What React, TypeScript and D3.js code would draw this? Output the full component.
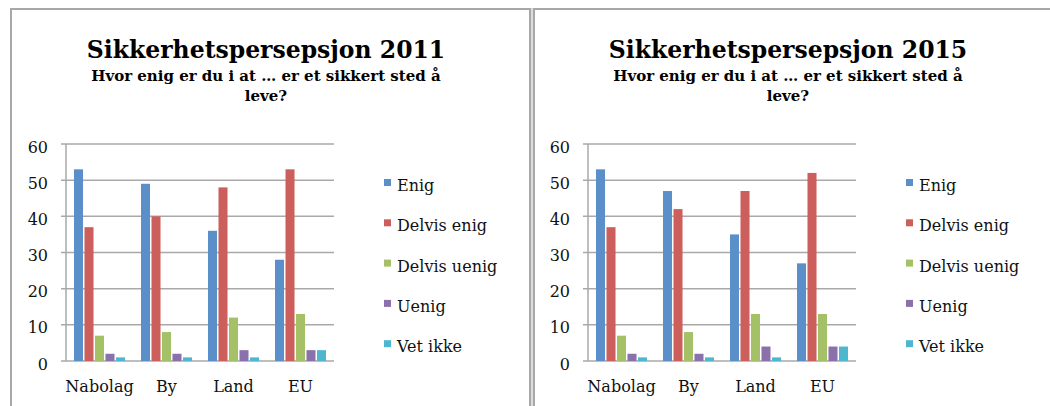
import { useRef, useEffect } from "react";
import * as d3 from "d3";

const categories = ["Nabolag", "By", "Land", "EU"];
const seriesNames = ["Enig", "Delvis enig", "Delvis uenig", "Uenig", "Vet ikke"];
const seriesColors = ["#5b8fca", "#cc5f5b", "#a4c167", "#8b71ab", "#4fb6cf"];
const yTicks = [0, 10, 20, 30, 40, 50, 60];

// values per category, in seriesNames order
const values2011 = [
  [53, 37, 7, 2, 1],
  [49, 40, 8, 2, 1],
  [36, 48, 12, 3, 1],
  [28, 53, 13, 3, 3],
];
const values2015 = [
  [53, 37, 7, 2, 1],
  [47, 42, 8, 2, 1],
  [35, 47, 13, 4, 1],
  [27, 52, 13, 4, 4],
];

const subtitleLine1 = "Hvor enig er du i at … er et sikkert sted å";
const subtitleLine2 = "leve?";

const FONT = "'DejaVu Serif', serif";

type PanelProps = {
  title: string;
  data: number[][];
  offsetX: number;
};

function Panel({ title, data, offsetX }: PanelProps) {
  const ref = useRef<SVGGElement>(null);

  useEffect(() => {
    if (!ref.current) return;
    const g = d3.select(ref.current);
    g.selectAll("*").remove();

    const plot = { left: 66, right: 334, top: 144, bottom: 361 };

    const x = d3
      .scaleBand<string>()
      .domain(categories)
      .range([plot.left, plot.right]);
    const xInner = d3
      .scaleBand<string>()
      .domain(seriesNames)
      .range([8, x.bandwidth() - 8])
      .paddingInner(0.14);
    const y = d3.scaleLinear().domain([0, 60]).range([plot.bottom, plot.top]);

    // Titles
    g.append("text")
      .attr("x", 266)
      .attr("y", 58)
      .attr("text-anchor", "middle")
      .attr("font-family", FONT)
      .attr("font-weight", "bold")
      .attr("font-size", 23.5)
      .text(title);
    g.append("text")
      .attr("x", 266)
      .attr("y", 81)
      .attr("text-anchor", "middle")
      .attr("font-family", FONT)
      .attr("font-weight", "bold")
      .attr("font-size", 15)
      .text(subtitleLine1);
    g.append("text")
      .attr("x", 266)
      .attr("y", 101)
      .attr("text-anchor", "middle")
      .attr("font-family", FONT)
      .attr("font-weight", "bold")
      .attr("font-size", 15)
      .text(subtitleLine2);

    // Gridlines + y ticks
    g.append("g")
      .selectAll("line")
      .data(yTicks)
      .join("line")
      .attr("x1", plot.left - 5)
      .attr("x2", plot.right)
      .attr("y1", (d) => y(d))
      .attr("y2", (d) => y(d))
      .attr("stroke", "#a9a9a9")
      .attr("stroke-width", 1.5);
    g.append("line")
      .attr("x1", plot.left)
      .attr("x2", plot.left)
      .attr("y1", plot.top)
      .attr("y2", plot.bottom)
      .attr("stroke", "#a9a9a9")
      .attr("stroke-width", 1.5);
    g.append("g")
      .selectAll("text")
      .data(yTicks)
      .join("text")
      .attr("x", 48)
      .attr("y", (d) => y(d) + 3)
      .attr("dy", "0.35em")
      .attr("text-anchor", "end")
      .attr("font-family", FONT)
      .attr("font-size", 16)
      .attr("fill", "#111")
      .text((d) => d);

    // Bars
    const groups = g
      .append("g")
      .selectAll("g")
      .data(data)
      .join("g")
      .attr("transform", (_, i) => `translate(${x(categories[i])},0)`);
    groups
      .selectAll("rect")
      .data((d) => d.map((v, j) => ({ v, s: seriesNames[j], c: seriesColors[j] })))
      .join("rect")
      .attr("x", (d) => xInner(d.s) as number)
      .attr("y", (d) => y(d.v))
      .attr("width", xInner.bandwidth())
      .attr("height", (d) => y(0) - y(d.v))
      .attr("fill", (d) => d.c);

    // Category labels
    g.append("g")
      .selectAll("text")
      .data(categories)
      .join("text")
      .attr("x", (d) => (x(d) as number) + x.bandwidth() / 2)
      .attr("y", 392)
      .attr("text-anchor", "middle")
      .attr("font-family", FONT)
      .attr("font-size", 16)
      .attr("fill", "#111")
      .text((d) => d);

    // Legend
    const legend = g
      .append("g")
      .selectAll("g")
      .data(seriesNames)
      .join("g")
      .attr("transform", (_, i) => `translate(384, ${191 + i * 40.3})`);
    legend
      .append("rect")
      .attr("x", 0)
      .attr("y", -12)
      .attr("width", 7)
      .attr("height", 7)
      .attr("fill", (_, i) => seriesColors[i]);
    legend
      .append("text")
      .attr("x", 13)
      .attr("y", 0)
      .attr("font-family", FONT)
      .attr("font-size", 16)
      .attr("fill", "#111")
      .text((d) => d);
  }, [title, data]);

  return <g ref={ref} transform={`translate(${offsetX},0)`} />;
}

export default function App() {
  return (
    <svg
      width={1050}
      height={406}
      style={{ position: "absolute", left: 0, top: 0, background: "#fff" }}
    >
      {/* frame */}
      <line x1={10} x2={1050} y1={9} y2={9} stroke="#a8a8a8" strokeWidth={2} />
      <line x1={11} x2={11} y1={8} y2={406} stroke="#a8a8a8" strokeWidth={2} />
      <rect x={529} y={8} width={6} height={398} fill="#dcdcdc" />
      <line x1={530} x2={530} y1={8} y2={406} stroke="#a8a8a8" strokeWidth={2} />
      <line x1={534} x2={534} y1={8} y2={406} stroke="#a8a8a8" strokeWidth={2} />
      <Panel title="Sikkerhetspersepsjon 2011" data={values2011} offsetX={0} />
      <Panel title="Sikkerhetspersepsjon 2015" data={values2015} offsetX={522} />
    </svg>
  );
}
